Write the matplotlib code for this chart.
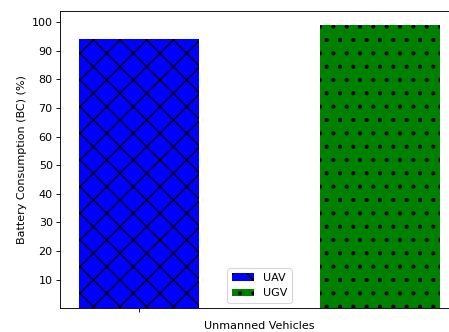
import matplotlib
matplotlib.use('Agg')
import matplotlib.pyplot as plt
import numpy as np

# data
vehicles = ['UAV', 'UGV']
consumption = [94, 99]
bar_colors = ['blue', 'green']
bar_hatches = ['xx', '..']
y_ticks = list(range(10, 101, 10))

# hatch spacing follows the dpi, so draw at 160 dpi and shrink the rest
s = 0.5
plt.rcParams['font.size'] = 10 * s
plt.rcParams['axes.linewidth'] = 0.8 * s
plt.rcParams['axes.labelpad'] = 4 * s
plt.rcParams['patch.linewidth'] = 1.0 * s
plt.rcParams['hatch.linewidth'] = 0.6
plt.rcParams['hatch.color'] = 'black'
for a in ['xtick', 'ytick']:
    plt.rcParams[a + '.major.size'] = 3.5 * s
    plt.rcParams[a + '.major.width'] = 0.8 * s
    plt.rcParams[a + '.major.pad'] = 3.5 * s

fig = plt.figure(figsize=(449 / 160, 332 / 160), dpi=160)
ax = fig.add_axes([0.1347, 0.0714, 0.8864, 0.8955])

x = np.arange(len(vehicles))
for i in range(len(vehicles)):
    ax.bar(x[i], consumption[i], width=0.5, color=bar_colors[i],
           hatch=bar_hatches[i], label=vehicles[i])

ax.set_yticks(y_ticks)
ax.set_xticks([0])
ax.set_xticklabels([''])
ax.set_xlabel('Unmanned Vehicles')
ax.set_ylabel('Battery Consumption (BC) (%)')
ax.legend(loc='lower center')

fig.savefig('out.png', dpi=160)
